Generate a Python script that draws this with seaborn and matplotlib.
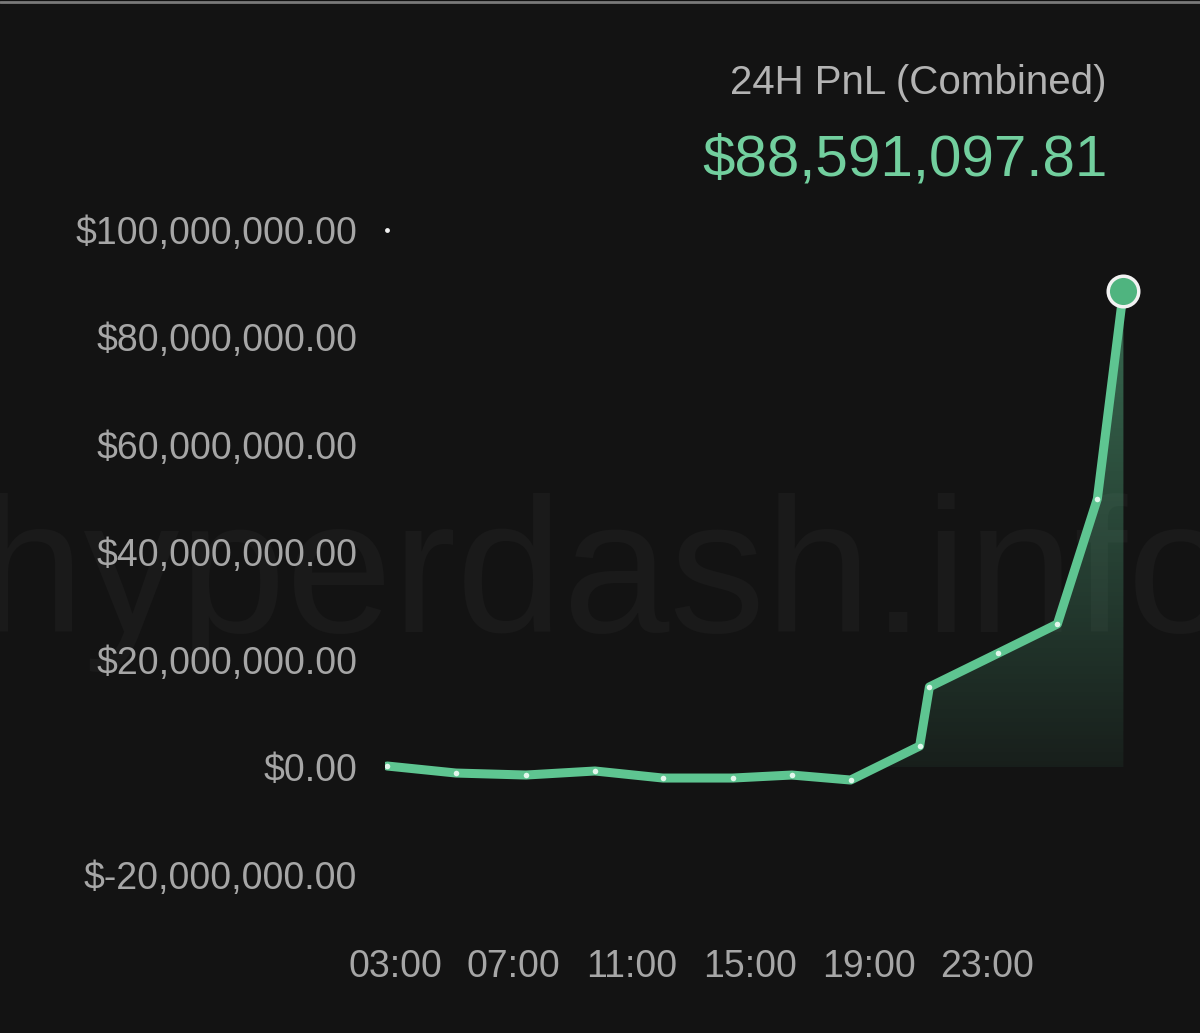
"""
24H PnL (Combined) line chart, dark dashboard style.
"""

import numpy as np
import matplotlib
matplotlib.use("Agg")
import matplotlib.pyplot as plt
import seaborn as sns
from matplotlib.colors import LinearSegmentedColormap
from matplotlib.lines import Line2D
from matplotlib.ticker import FuncFormatter


# ---------------------------------------------------------------------------
# Data (hours of day, PnL in USD)
# ---------------------------------------------------------------------------

hours = [2.73, 5.06, 7.42, 9.75, 12.04, 14.40, 16.39, 18.38,
         20.71, 21.04, 23.37, 25.36, 26.71, 27.59]
pnl = [0.19e6, -1.12e6, -1.49e6, -0.74e6, -2.05e6, -2.05e6, -1.49e6, -2.42e6,
       3.9e6, 14.9e6, 21.2e6, 26.6e6, 49.9e6, 88_591_097.81]

y_ticks = [-20e6, 0, 20e6, 40e6, 60e6, 80e6, 100e6]
x_ticks = [3, 7, 11, 15, 19, 23]
x_labels = ["03:00", "07:00", "11:00", "15:00", "19:00", "23:00"]

title = "24H PnL (Combined)"
total_label = "$88,591,097.81"
watermark = "hyperdash.info"

# ---------------------------------------------------------------------------
# Style
# ---------------------------------------------------------------------------

BG = "#131313"
GREEN = "#5ec591"
TEXT = "#a6a6a6"

sns.set_theme(style="dark", rc={
    "figure.facecolor": BG,
    "axes.facecolor": BG,
    "axes.edgecolor": BG,
    "axes.grid": False,
})
plt.rcParams["font.family"] = ["Liberation Sans", "DejaVu Sans"]

fig = plt.figure(figsize=(12, 10.33), dpi=100)
ax = fig.add_axes([0.3208, 0.12875, 0.6292, 0.67764])
ax.set_facecolor("none")
ax.set_zorder(2)

# faint watermark behind the chart
fig.text(0.505, 0.436, watermark, fontsize=138, color="#1a1a1a",
         ha="center", va="center", zorder=1)

# top UI edge
fig.add_artist(Line2D([0, 1], [0.998, 0.998], color="#7a7a7a", lw=2,
                      transform=fig.transFigure))

# gradient fill under the curve
poly = ax.fill_between(hours, pnl, 0, color="none", lw=0)
cmap = LinearSegmentedColormap.from_list(
    "fade", [(0.37, 0.77, 0.57, 0.07), (0.37, 0.77, 0.57, 0.5)])
grad = np.linspace(0, 1, 256).reshape(-1, 1)
img = ax.imshow(grad, extent=[hours[0], hours[-1], 0, max(pnl)],
                origin="lower", cmap=cmap, aspect="auto", zorder=1)
img.set_clip_path(poly.get_paths()[0], transform=ax.transData)

# main line
sns.lineplot(x=hours, y=pnl, ax=ax, color=GREEN, lw=6.5, zorder=3,
             solid_capstyle="round", solid_joinstyle="round")

# small point markers
ax.plot(hours[:-1], pnl[:-1], "o", ms=4, color="#e2f7ec", mec="none", zorder=4)

# current value marker
ax.plot(hours[-1], pnl[-1], "o", ms=22, color="#4fb47f", mec="#f2f2f2",
        mew=2.5, zorder=5)

# top reference dot
ax.plot(hours[0], y_ticks[-1], "o", ms=3.5, color="#f0f0f0", mec="none", zorder=4)

ax.set_xlim(2.66, 28.15)
ax.set_ylim(-24.74e6, 105.49e6)

ax.set_yticks(y_ticks)
ax.yaxis.set_major_formatter(FuncFormatter(lambda v, _: f"${v:,.2f}"))
ax.set_xticks(x_ticks)
ax.set_xticklabels(x_labels)
ax.tick_params(axis="y", length=0, pad=20, labelsize=27, labelcolor=TEXT)
ax.tick_params(axis="x", length=0, pad=35, labelsize=27, labelcolor=TEXT)
for s in ax.spines.values():
    s.set_visible(False)

fig.text(0.9217, 0.9196, title, fontsize=29, color="#b3b3b3",
         ha="right", va="center")
fig.text(0.9233, 0.8445, total_label, fontsize=42, color="#72cf9e",
         ha="right", va="center")

fig.savefig("out.png", dpi=100, facecolor=BG)
plt.close(fig)
